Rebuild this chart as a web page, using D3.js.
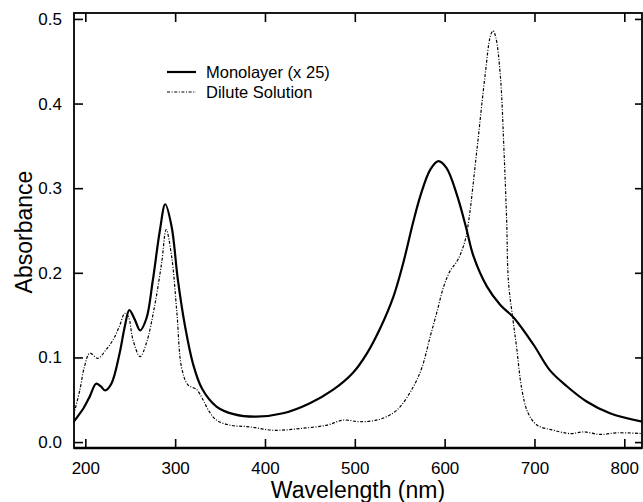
<!DOCTYPE html>
<html>
<head>
<meta charset="utf-8">
<script src="https://cdn.jsdelivr.net/npm/d3@7"></script>
<style>
    body { margin: 0; background: #fff; }
    svg { font-family: "Liberation Sans", Arial, Helvetica, sans-serif; }
</style>
</head>
<body>
<svg id="chart" width="643" height="502"></svg>
<script>
// values
const monoNm = [187, 192, 198, 205, 212, 217, 222, 229, 238, 244, 249, 255, 261, 268, 275, 283, 289, 296, 303, 311,
    320, 330, 346, 365, 390, 420, 450, 476, 498, 513, 528, 543, 554, 565, 573, 584, 593, 602, 614, 624,
    632, 647, 662, 677, 699, 717, 736, 758, 784, 820]
const monoAbs = [0.024, 0.031, 0.040, 0.054, 0.069, 0.066, 0.061, 0.069, 0.104, 0.137, 0.156, 0.145, 0.132, 0.146, 0.190, 0.250, 0.281, 0.255, 0.192, 0.137,
    0.092, 0.063, 0.042, 0.033, 0.030, 0.034, 0.046, 0.062, 0.082, 0.104, 0.134, 0.172, 0.212, 0.260, 0.291, 0.322, 0.332, 0.324, 0.291, 0.253,
    0.220, 0.184, 0.162, 0.147, 0.115, 0.085, 0.066, 0.048, 0.034, 0.024]

const diluteNm = [187, 194, 199, 205, 214, 223, 231, 238, 244, 248, 253, 261, 268, 277, 285, 290, 296, 302, 307, 314,
    324, 331, 338, 346, 361, 383, 409, 439, 469, 487, 506, 528, 547, 565, 575, 584, 591, 599, 606, 615,
    623, 627, 636, 645, 651, 654, 657, 662, 666, 669, 671, 676, 680, 686, 693, 703, 721, 740, 755, 773, 792, 820]
const diluteAbs = [0.032, 0.062, 0.089, 0.105, 0.099, 0.109, 0.121, 0.137, 0.152, 0.148, 0.121, 0.101, 0.117, 0.160, 0.212, 0.251, 0.220, 0.152, 0.089, 0.068,
    0.062, 0.050, 0.036, 0.026, 0.020, 0.018, 0.014, 0.016, 0.020, 0.026, 0.024, 0.027, 0.038, 0.065, 0.089, 0.125, 0.152, 0.184, 0.202, 0.216,
    0.239, 0.263, 0.346, 0.433, 0.480, 0.486, 0.478, 0.433, 0.346, 0.263, 0.190, 0.145, 0.113, 0.062, 0.034, 0.020, 0.014, 0.010, 0.012, 0.009, 0.011, 0.010]

const xTicks = [200, 300, 400, 500, 600, 700, 800]
const yTicks = [0.0, 0.1, 0.2, 0.3, 0.4, 0.5]
const seriesNames = ["Monolayer (x 25)", "Dilute Solution"]

const svg = d3.select("#chart")
const margin = {top: 13, right: 1, bottom: 54, left: 74}
const width = +svg.attr("width") - margin.left - margin.right
const height = +svg.attr("height") - margin.top - margin.bottom

const x = d3.scaleLinear().domain([187.4, 819.7]).range([0, width])
const y = d3.scaleLinear().domain([-0.007, 0.507]).range([height, 0])

const g = svg.append("g").attr("transform", "translate(" + margin.left + "," + margin.top + ")")

svg.append("defs").append("clipPath").attr("id", "clip")
    .append("rect").attr("width", width).attr("height", height)

// inward ticks on all four sides
const tk = 9
g.append("g").attr("class", "axis axis--x")
    .attr("transform", "translate(0," + height + ")")
    .call(d3.axisBottom(x).tickValues(xTicks).tickSizeInner(-tk).tickSizeOuter(0).tickPadding(tk + 5))
g.append("g").attr("class", "axis axis--top")
    .call(d3.axisTop(x).tickValues(xTicks).tickSizeInner(-tk).tickSizeOuter(0).tickFormat(""))
g.append("g").attr("class", "axis axis--y")
    .call(d3.axisLeft(y).tickValues(yTicks).tickSizeInner(-tk).tickSizeOuter(0).tickPadding(tk + 3).tickFormat(d3.format(".1f")))
g.append("g").attr("class", "axis axis--right")
    .attr("transform", "translate(" + width + ",0)")
    .call(d3.axisRight(y).tickValues(yTicks).tickSizeInner(-7).tickSizeOuter(0).tickFormat(""))

g.selectAll(".axis path").remove()
g.selectAll(".axis line").attr("stroke", "#000").attr("stroke-width", 1.6)
g.selectAll(".axis text").attr("fill", "#000").style("font-size", "17px")

g.append("rect")
    .attr("width", width).attr("height", height)
    .attr("fill", "none").attr("stroke", "#000").attr("stroke-width", 1.8)
// bottom edge is drawn heavier in the original
g.append("line")
    .attr("x1", 0).attr("x2", width).attr("y1", height).attr("y2", height)
    .attr("stroke", "#000").attr("stroke-width", 2.6)

const line = d3.line()
    .x(d => x(d[0]))
    .y(d => y(d[1]))
    .curve(d3.curveCatmullRom.alpha(0.5))

const plot = g.append("g").attr("clip-path", "url(#clip)")

plot.append("path")
    .datum(d3.zip(diluteNm, diluteAbs))
    .attr("fill", "none").attr("stroke", "#000")
    .attr("stroke-width", 1.2)
    .attr("stroke-dasharray", "3,1.6,1,1.6")
    .attr("d", line)

plot.append("path")
    .datum(d3.zip(monoNm, monoAbs))
    .attr("fill", "none").attr("stroke", "#000")
    .attr("stroke-width", 2.2)
    .attr("d", line)

// legend
const legend = svg.append("g").attr("transform", "translate(167,72)")
const legendRow = legend.selectAll("g").data(seriesNames).enter().append("g")
    .attr("transform", (d, i) => "translate(0," + i * 20 + ")")
legendRow.append("line")
    .attr("x1", 0).attr("x2", 29)
    .attr("stroke", "#000")
    .attr("stroke-width", (d, i) => i ? 1.2 : 2.2)
    .attr("stroke-dasharray", (d, i) => i ? "3,1.6,1,1.6" : null)
legendRow.append("text")
    .attr("x", 39).attr("y", 5.5)
    .style("font-size", "16.5px")
    .text(d => d)

// axis titles
svg.append("text")
    .attr("x", 358).attr("y", 498)
    .attr("text-anchor", "middle")
    .style("font-size", "23px")
    .text("Wavelength (nm)")

svg.append("text")
    .attr("transform", "translate(32,232) rotate(-90)")
    .attr("text-anchor", "middle")
    .style("font-size", "23px")
    .text("Absorbance")
</script>
</body>
</html>
